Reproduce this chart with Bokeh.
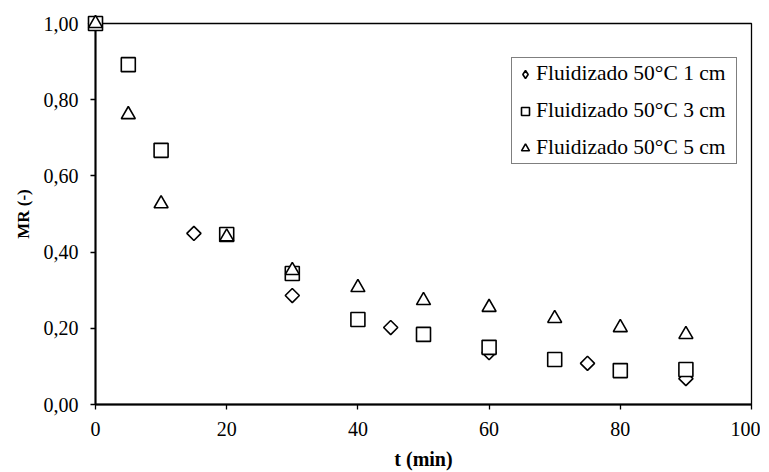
import math
from bokeh.plotting import figure
from bokeh.models import FixedTicker, Range1d, Legend, LegendItem
from bokeh.embed import file_html
from bokeh.resources import INLINE

t1 = [0, 15, 30, 45, 60, 75, 90]
mr1 = [1.00, 0.449, 0.286, 0.202, 0.136, 0.108, 0.068]

t3 = [0, 5, 10, 20, 30, 40, 50, 60, 70, 80, 90]
mr3 = [1.00, 0.892, 0.667, 0.446, 0.344, 0.223, 0.184, 0.150, 0.118, 0.089, 0.092]

t5 = [0, 5, 10, 20, 30, 40, 50, 60, 70, 80, 90]
mr5 = [1.00, 0.761, 0.527, 0.440, 0.352, 0.307, 0.273, 0.255, 0.226, 0.202, 0.184]

labels = ["Fluidizado 50°C 1 cm", "Fluidizado 50°C 3 cm", "Fluidizado 50°C 5 cm"]
yticks = [0, 0.2, 0.4, 0.6, 0.8, 1.0]
xticks = [0, 20, 40, 60, 80, 100]

FONT = "Liberation Serif"

p = figure(width=760, height=472, output_backend="svg", toolbar_location=None,
           x_range=Range1d(0, 100), y_range=Range1d(0, 1.0),
           min_border_left=95, min_border_right=9, min_border_top=23, min_border_bottom=68)
p.background_fill_color = "white"
p.border_fill_color = "white"
p.grid.visible = False
p.outline_line_color = "black"
p.outline_line_width = 1.3

# small diamond glyph used for the legend entry; it is hidden beneath the white-filled
# rotated squares drawn on top of it
r1_leg = p.scatter(t1, mr1, marker="diamond", size=8, fill_color="white",
                   line_color="black", line_width=1.6)
r1 = p.scatter(t1, mr1, marker="square", angle=math.pi / 4, size=10, fill_color="white",
               line_color="black", line_width=1.6, level="overlay")
r3 = p.scatter(t3, mr3, marker="square", size=14, fill_color="white", line_color="black",
               line_width=1.6, level="overlay")
r5 = p.scatter(t5, mr5, marker="triangle", size=14, fill_color="white", line_color="black",
               line_width=1.6, level="overlay")

for ax in (p.xaxis[0], p.yaxis[0]):
    ax.axis_line_color = "black"
    ax.axis_line_width = 2
    ax.major_tick_line_color = "black"
    ax.major_tick_line_width = 1.3
    ax.major_tick_in = 0
    ax.major_tick_out = 5
    ax.minor_tick_line_color = None
    ax.major_label_text_font = FONT
    ax.major_label_text_font_size = "20px"
    ax.major_label_text_color = "black"
    ax.axis_label_text_font = FONT
    ax.axis_label_text_font_style = "bold"
    ax.axis_label_text_color = "black"

p.xaxis[0].ticker = FixedTicker(ticks=xticks)
p.yaxis[0].ticker = FixedTicker(ticks=yticks)
p.yaxis[0].major_label_overrides = {v: f"{v:.2f}".replace(".", ",") for v in yticks}
p.xaxis[0].major_label_overrides = {v: str(v) for v in xticks}
p.xaxis[0].axis_label = "t (min)"
p.yaxis[0].axis_label = "MR (-)"
p.xaxis[0].axis_label_text_font_size = "20px"
p.yaxis[0].axis_label_text_font_size = "17px"
p.xaxis[0].major_label_standoff = 12
p.xaxis[0].axis_label_standoff = 9
p.yaxis[0].major_label_standoff = 12
p.yaxis[0].axis_label_standoff = 8

legend = Legend(items=[LegendItem(label=labels[0], renderers=[r1_leg]),
                       LegendItem(label=labels[1], renderers=[r3]),
                       LegendItem(label=labels[2], renderers=[r5])],
                location=(416, 240))
legend.label_text_font = FONT
legend.label_text_font_size = "21.5px"
legend.label_text_color = "black"
legend.border_line_color = "black"
legend.border_line_width = 1.5
legend.glyph_width = 20
legend.glyph_height = 22
legend.label_height = 22
legend.label_width = 197
legend.label_standoff = 1
legend.spacing = 12
legend.padding = 3
legend.margin = 0
p.add_layout(legend)

open("out.html", "w").write(file_html(p, INLINE))
